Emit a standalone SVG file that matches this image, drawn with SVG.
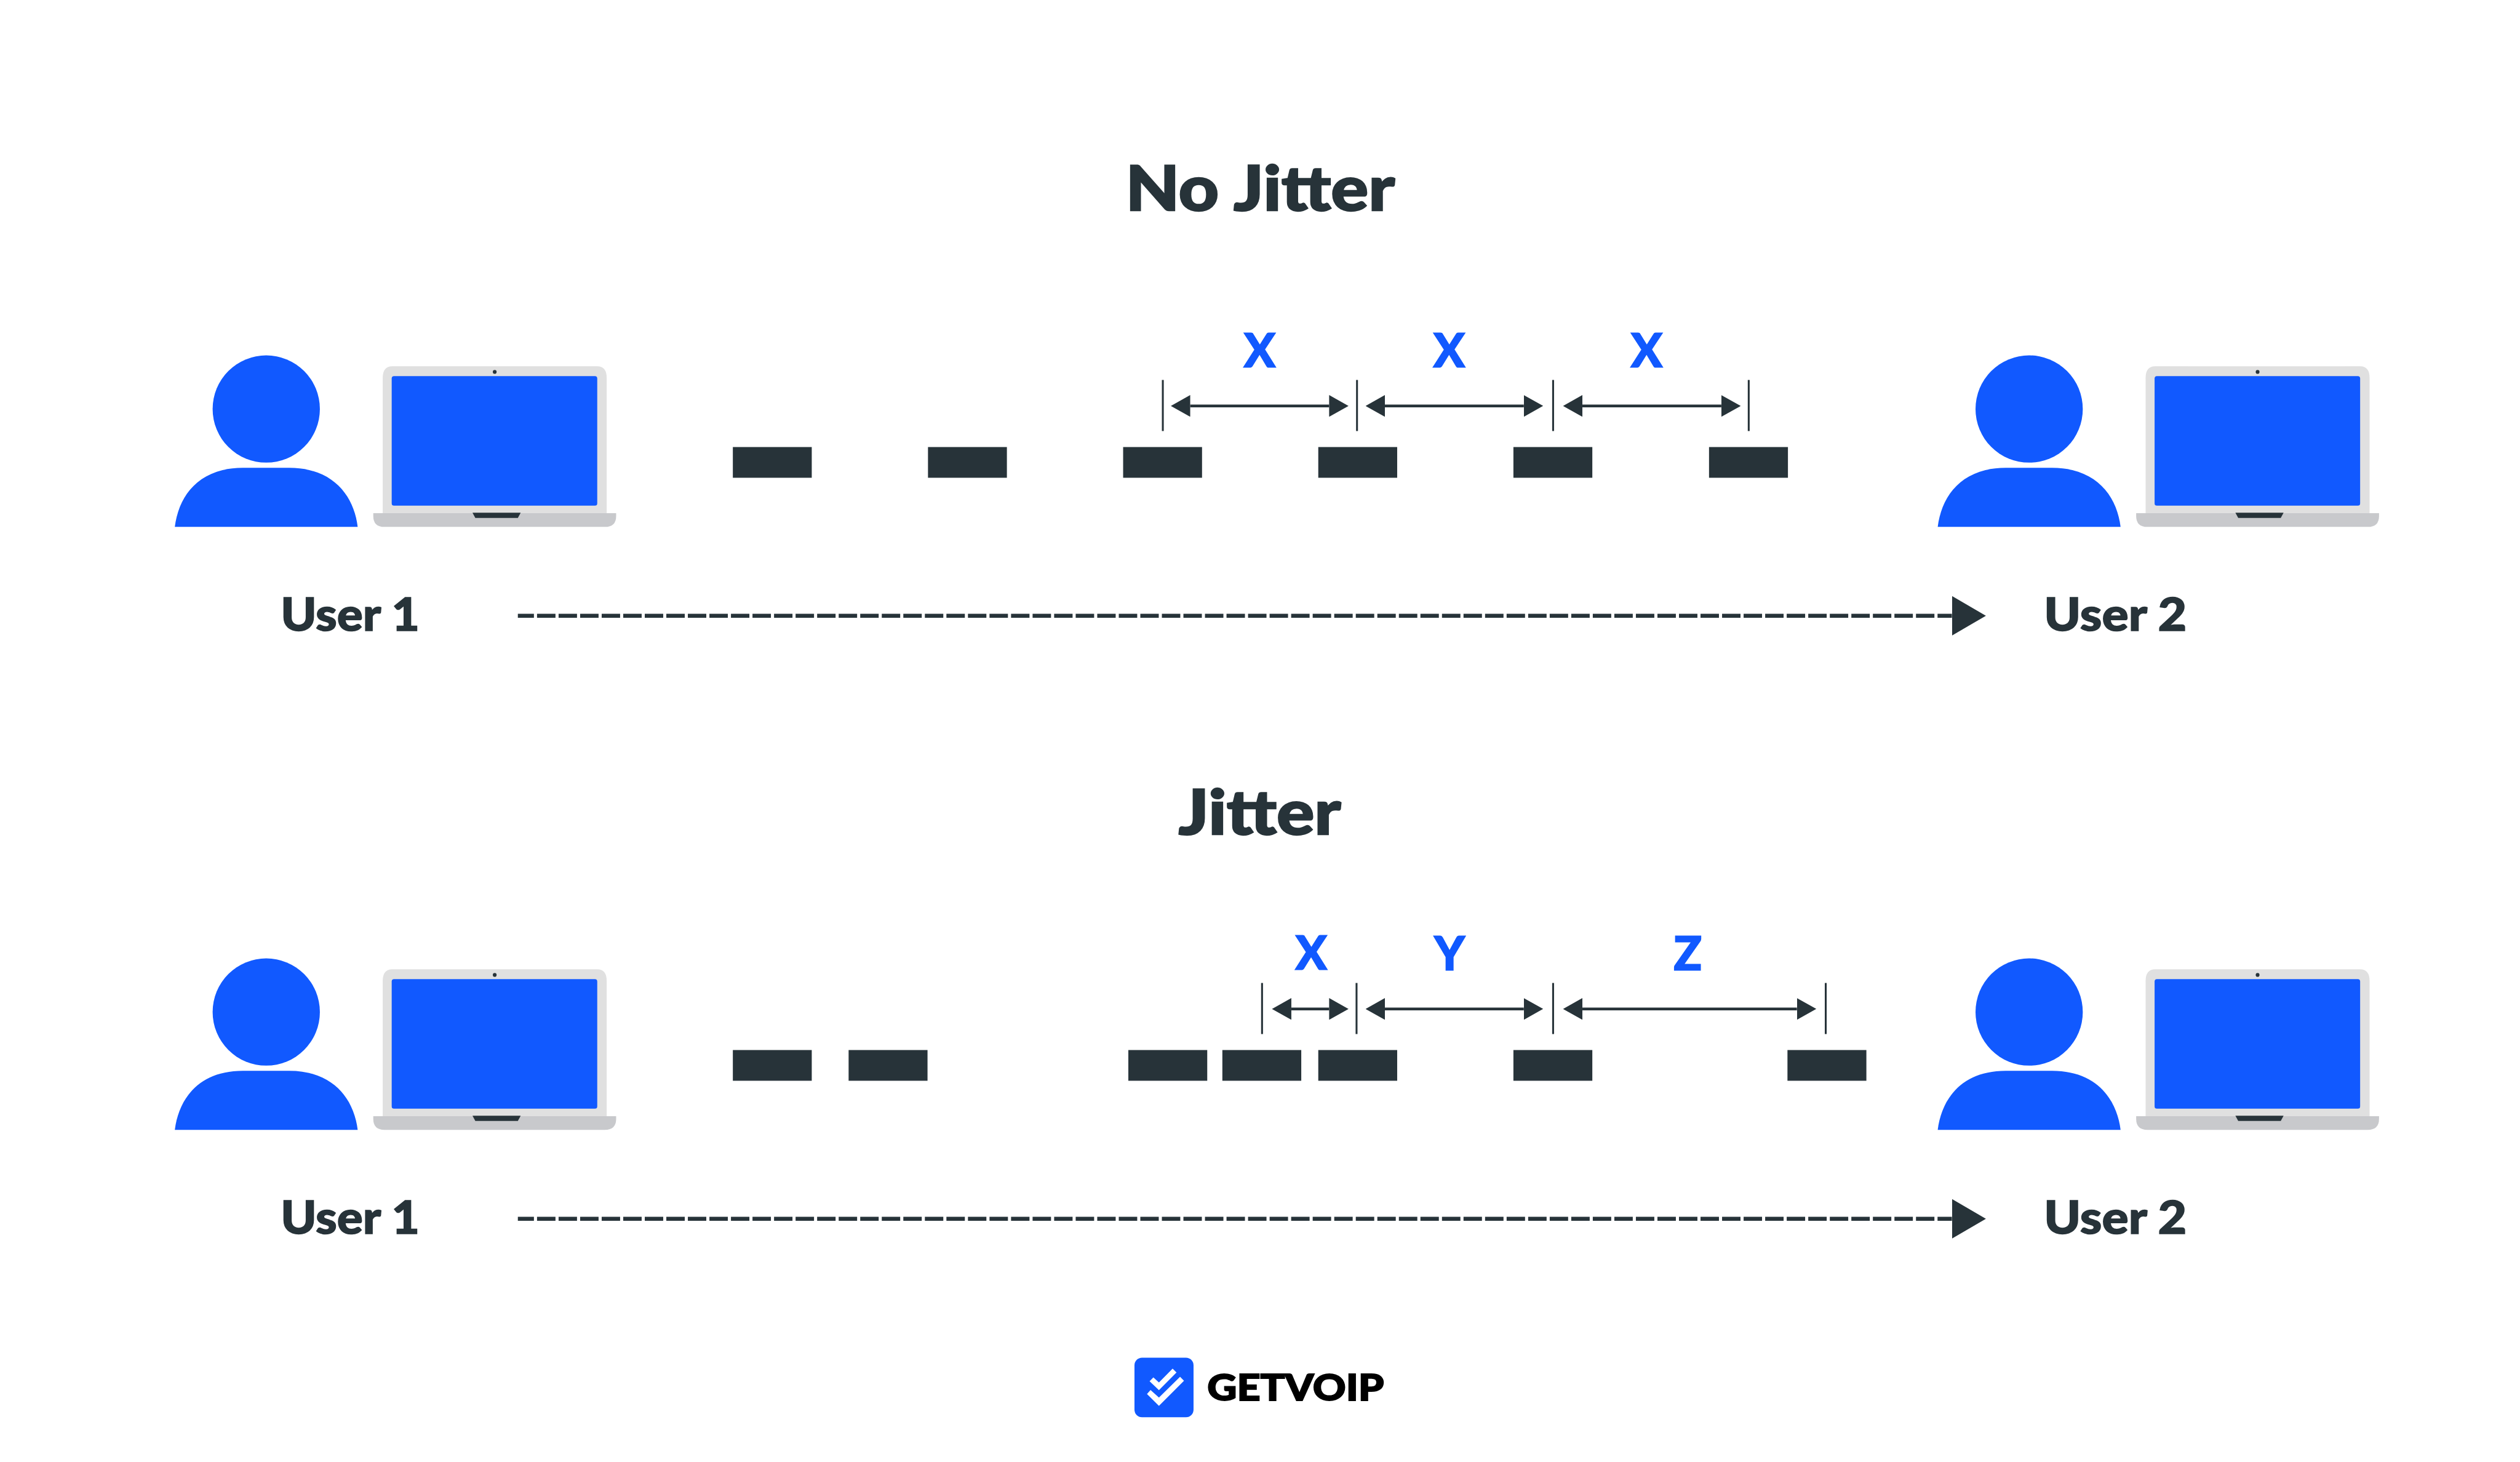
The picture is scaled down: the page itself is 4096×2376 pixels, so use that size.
<svg xmlns="http://www.w3.org/2000/svg" width="4096" height="2376" viewBox="0 0 4096 2376">
<style>
.d{fill:#273339}.b{fill:#1159ff}
.t{font-family:Lato,"Liberation Sans",sans-serif;font-weight:900;fill:#273339;stroke:#273339}
.title{font-size:132px;stroke-width:3}.user{font-size:97px;stroke-width:2}
.lab{font-family:Lato,"Liberation Sans",sans-serif;font-weight:700;font-size:96px;fill:#1159ff;stroke:#1159ff;stroke-width:4;text-anchor:middle}
.tick{stroke:#273339;stroke-width:4;fill:none}
.dim{stroke:#273339;stroke-width:6;fill:none;marker-start:url(#ah);marker-end:url(#ah)}
.flow{stroke:#273339;stroke-width:8.5;fill:none;stroke-dasharray:39 6.6;stroke-dashoffset:5;marker-end:url(#fh)}
</style>
<defs>
<marker id="ah" markerUnits="userSpaceOnUse" viewBox="0 0 41 46" markerWidth="41" markerHeight="46" refX="0" refY="23" orient="auto-start-reverse"><path d="M0 0L41 23L0 46Z" fill="#273339"/></marker>
<marker id="fh" markerUnits="userSpaceOnUse" viewBox="0 0 72 84" markerWidth="72" markerHeight="84" refX="0" refY="42" orient="auto"><path d="M0 0L72 42L0 84Z" fill="#273339"/></marker>
<g id="person">
<circle class="b" cx="563.500" cy="865.500" r="113.500"/>
<path class="b" d="M370 1115C378 1050 420 990 514 990H612C706 990 749 1050 757 1115Z"/>
</g>
<g id="laptop">
<path fill="#e0e0e0" d="M810 1086V800Q810 775 830 775H1264Q1284 775 1284 800V1086Z"/>
<rect class="b" x="829" y="796" width="435" height="274" rx="5"/>
<circle class="d" cx="1047" cy="787" r="4"/>
<path fill="#c8c9cc" d="M790 1086H1304V1092Q1304 1115 1280 1115H814Q790 1115 790 1092Z"/>
<path class="d" d="M1000 1085H1102L1096 1096H1006Z"/>
</g>
</defs>
<rect width="4096" height="2376" fill="#fff"/>
<g transform="scale(0.768)">
<text id="title-no-jitter" class="t title" x="2382" y="445.500" textLength="570" lengthAdjust="spacingAndGlyphs">No Jitter</text>
<text id="title-jitter" class="t title" x="2494" y="1766" textLength="344" lengthAdjust="spacingAndGlyphs">Jitter</text>

<g id="user1-top"><use href="#person"/><use href="#laptop"/></g>
<g id="user2-top" transform="translate(3731 0)"><use href="#person"/><use href="#laptop"/></g>
<g id="user1-bottom" transform="translate(0 1276)"><use href="#person"/><use href="#laptop"/></g>
<g id="user2-bottom" transform="translate(3731 1276)"><use href="#person"/><use href="#laptop"/></g>

<g id="labels-users">
<text class="t user" x="594" y="1335" textLength="294" lengthAdjust="spacingAndGlyphs">User 1</text>
<text class="t user" x="4326" y="1335" textLength="302" lengthAdjust="spacingAndGlyphs">User 2</text>
<text class="t user" x="594" y="2611" textLength="294" lengthAdjust="spacingAndGlyphs">User 1</text>
<text class="t user" x="4326" y="2611" textLength="302" lengthAdjust="spacingAndGlyphs">User 2</text>
</g>

<g id="packets-top" class="d">
<rect x="1551" y="946" width="167" height="65"/><rect x="1964" y="946" width="167" height="65"/><rect x="2377" y="946" width="167" height="65"/><rect x="2790" y="946" width="167" height="65"/><rect x="3203" y="946" width="167" height="65"/><rect x="3617" y="946" width="167" height="65"/>
</g>
<g id="packets-bottom" class="d">
<rect x="1551" y="2222" width="167" height="65"/><rect x="1796" y="2222" width="167" height="65"/><rect x="2388" y="2222" width="167" height="65"/><rect x="2587" y="2222" width="167" height="65"/><rect x="2790" y="2222" width="167" height="65"/><rect x="3203" y="2222" width="167" height="65"/><rect x="3783" y="2222" width="167" height="65"/>
</g>

<g id="connectors">
<path class="tick" d="M2461 804V912M2872 804V912M3287 804V912M3701 804V912"/>
<line class="dim" x1="2519" y1="859" x2="2813" y2="859"/>
<line class="dim" x1="2931" y1="859" x2="3225" y2="859"/>
<line class="dim" x1="3349" y1="859" x2="3643" y2="859"/>
<path class="tick" d="M2671 2080V2188M2871 2080V2188M3287 2080V2188M3864 2080V2188"/>
<line class="dim" x1="2733" y1="2135" x2="2813" y2="2135"/>
<line class="dim" x1="2931" y1="2135" x2="3225" y2="2135"/>
<line class="dim" x1="3349" y1="2135" x2="3803" y2="2135"/>
<line class="flow" x1="1096" y1="1303" x2="4131" y2="1303"/>
<line class="flow" x1="1096" y1="2579" x2="4131" y2="2579"/>
</g>

<g id="interval-labels">
<text class="lab" x="2666" y="776">X</text>
<text class="lab" x="3067" y="776">X</text>
<text class="lab" x="3485" y="776">X</text>
<text class="lab" x="2775" y="2051">X</text>
<text class="lab" x="3068" y="2052">Y</text>
<text class="lab" x="3572" y="2052">Z</text>
</g>

<g id="logo">
<rect class="b" x="2401" y="2873" width="125" height="126" rx="16"/>
<path fill="#fff" d="M2441 2914.700L2452.800 2925.300L2481.700 2896L2490 2904.300L2452.800 2941.700L2433 2922.700Z"/>
<path fill="#fff" d="M2435 2941.300L2452.800 2957.300L2497.500 2913.300L2505.800 2922L2452.800 2975L2427.500 2950Z"/>
<text x="2555" y="2963" font-family="Lato,'Liberation Sans',sans-serif" font-weight="900" font-size="77" fill="#000" stroke="#000" stroke-width="2.500" textLength="374" lengthAdjust="spacingAndGlyphs">GETVOIP</text>
</g>
</g>
</svg>
